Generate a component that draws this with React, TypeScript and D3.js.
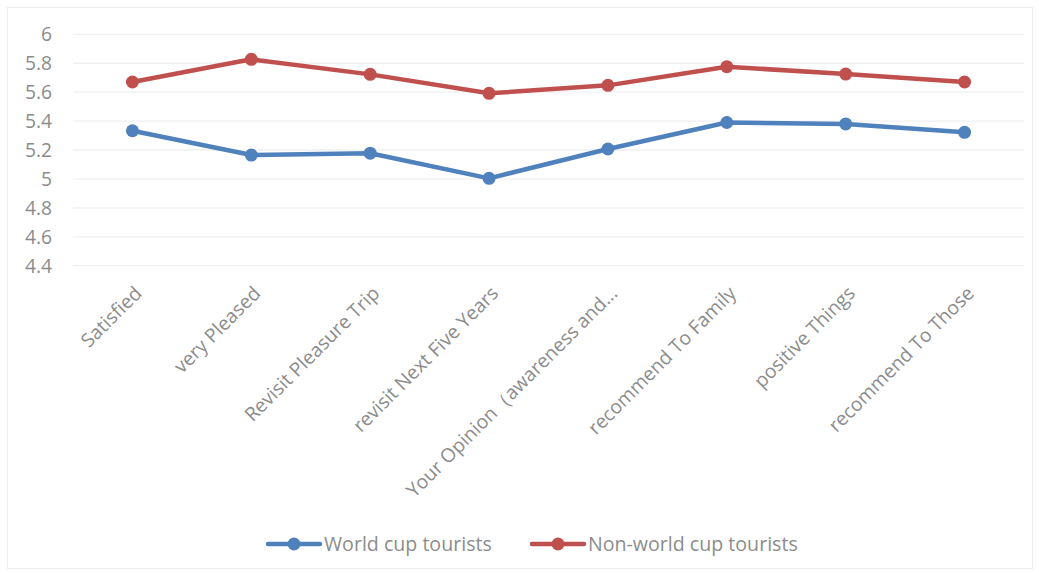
import React from "react";
import * as d3 from "d3";

const categories = [
  "Satisfied",
  "very Pleased",
  "Revisit Pleasure Trip",
  "revisit Next Five Years",
  "Your Opinion（awareness and...",
  "recommend To Family",
  "positive Things",
  "recommend To Those",
];
const worldCup = [5.333, 5.165, 5.178, 5.004, 5.207, 5.39, 5.38, 5.322];
const nonWorldCup = [5.67, 5.827, 5.723, 5.592, 5.647, 5.776, 5.725, 5.67];
const yTicks = [4.4, 4.6, 4.8, 5, 5.2, 5.4, 5.6, 5.8, 6];
const seriesNames = ["World cup tourists", "Non-world cup tourists"];
const seriesColors = ["#4F81BD", "#C0504D"];

const W = 1039;
const H = 573;
const left = 73;
const right = 1024;
const top = 34.3;
const bottom = 265.7;
const font = "Open Sans, 'Noto Sans', sans-serif";
const textColor = "#8C8C8C";

export default function App() {
  const x = d3.scaleBand<string>().domain(categories).range([left, right]);
  const y = d3.scaleLinear().domain([4.4, 6]).range([bottom, top]);
  const cx = (c: string) => (x(c) as number) + x.bandwidth() / 2;
  const line = d3
    .line<number>()
    .x((_, i) => cx(categories[i]))
    .y((d) => y(d));
  const series = [worldCup, nonWorldCup];
  const legendX = [268, 532];
  const legendY = 544;

  return (
    <div style={{ position: "absolute", left: 0, top: 0 }}>
      <svg width={W} height={H} style={{ display: "block" }}>
        <rect x={0} y={0} width={W} height={H} fill="#fff" />
        <rect x={7.5} y={7.5} width={1025} height={561} fill="none" stroke="#EDEDED" strokeWidth={1} />
        {yTicks.map((t) => (
          <g key={t}>
            <line x1={left} x2={right} y1={y(t)} y2={y(t)} stroke="#F0F0F0" strokeWidth={1.3} />
            <text
              x={52}
              y={y(t)}
              dy="0.36em"
              textAnchor="end"
              fontFamily={font}
              fontSize={19.3}
              fill={textColor}
            >
              {d3.format("~g")(t)}
            </text>
          </g>
        ))}
        {categories.map((c) => (
          <text
            key={c}
            transform={`translate(${cx(c) + 1},${285}) rotate(-45)`}
            textAnchor="end"
            dy="0.7em"
            fontFamily={font}
            fontSize={19.3}
            fill={textColor}
          >
            {c}
          </text>
        ))}
        {series.map((s, si) => (
          <g key={si}>
            <path d={line(s) as string} fill="none" stroke={seriesColors[si]} strokeWidth={4.5} strokeLinejoin="round" />
            {s.map((v, i) => (
              <circle key={i} cx={cx(categories[i])} cy={y(v)} r={6.5} fill={seriesColors[si]} />
            ))}
          </g>
        ))}
        {seriesNames.map((n, si) => {
          const lx = legendX[si];
          return (
            <g key={n}>
              <line x1={lx} x2={lx + 52} y1={legendY} y2={legendY} stroke={seriesColors[si]} strokeWidth={4.5} strokeLinecap="round" />
              <circle cx={lx + 26} cy={legendY} r={6.5} fill={seriesColors[si]} />
              <text x={lx + 56} y={legendY} dy="0.35em" fontFamily={font} fontSize={19.6} fill={textColor}>
                {n}
              </text>
            </g>
          );
        })}
      </svg>
    </div>
  );
}
